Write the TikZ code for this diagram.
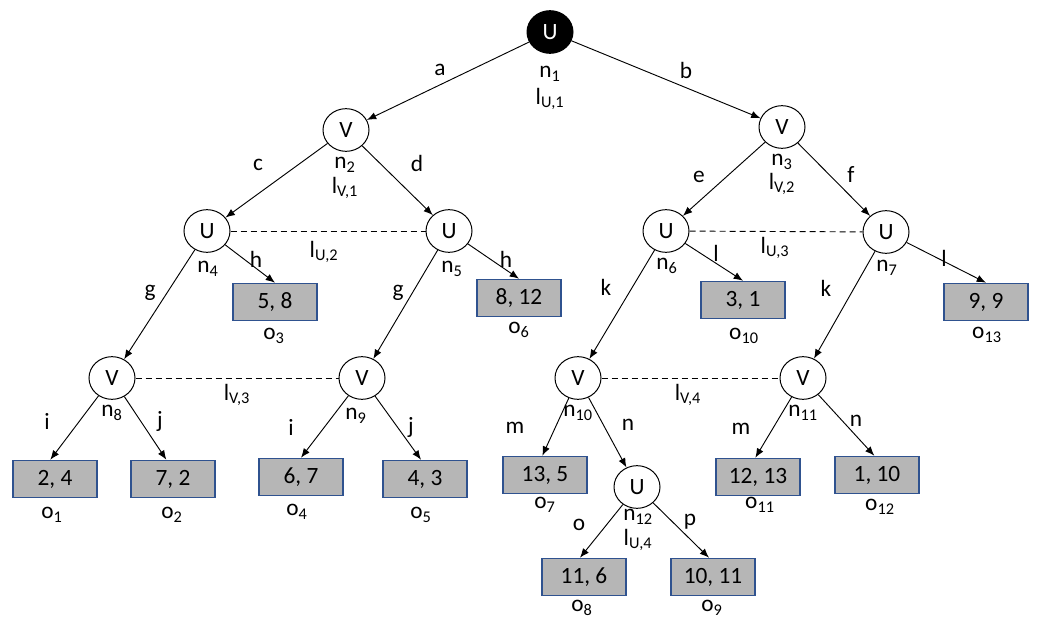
\documentclass[tikz,border=0pt]{standalone}
\usepackage{fontspec}
\setmainfont{Carlito}
\usetikzlibrary{shapes.geometric,arrows.meta}
\definecolor{leafgray}{RGB}{182,182,182}
\definecolor{leafborder}{RGB}{47,82,143}
\newcommand{\sbs}[2]{#1\textsubscript{#2}}
\begin{document}
\begin{tikzpicture}[x=0.75pt,y=-0.75pt,
  every node/.style={font=\fontsize{17.5}{20}\selectfont},
  dnode/.style={ellipse,draw,line width=0.75pt,minimum width=34.5pt,minimum height=32pt,inner sep=0pt},
  rootnode/.style={dnode,fill=black,text=white},
  leaf/.style={draw=leafborder,fill=leafgray,line width=0.9pt,minimum width=63pt,minimum height=28pt,inner sep=0pt},
  edge/.style={line width=0.7pt,-{Latex[length=7pt,width=5.5pt]}},
  info/.style={dash pattern=on 4.5pt off 3pt,line width=0.7pt},
  lab/.style={inner sep=0pt}]
\useasboundingbox (0,0) rectangle (1047,634);
% decision nodes
\node[rootnode] (n1) at (550,32) {U};
\node[dnode] (n2) at (346,130) {V};
\node[dnode] (n3) at (782,127) {V};
\node[dnode] (n4) at (207,231) {U};
\node[dnode] (n5) at (449,231) {U};
\node[dnode] (n6) at (666,231) {U};
\node[dnode] (n7) at (886,232) {U};
\node[dnode] (n8) at (112,378) {V};
\node[dnode] (n9) at (362,378) {V};
\node[dnode] (n10) at (578,378) {V};
\node[dnode] (n11) at (803,378) {V};
\node[dnode] (n12) at (637,487) {U};
% leaves
\node[leaf] (o1) at (55,479) {2, 4};
\node[leaf] (o2) at (173,479) {7, 2};
\node[leaf] (o3) at (275,302) {5, 8};
\node[leaf] (o4) at (301,477) {6, 7};
\node[leaf] (o5) at (425,479) {4, 3};
\node[leaf] (o6) at (519,298) {8, 12};
\node[leaf] (o7) at (545,475) {13, 5};
\node[leaf] (o8) at (584,577) {11, 6};
\node[leaf] (o9) at (713,577) {10, 11};
\node[leaf] (o10) at (743,300) {3, 1};
\node[leaf] (o11) at (758,477) {12, 13};
\node[leaf] (o12) at (877,475) {1, 10};
\node[leaf] (o13) at (986,302) {9, 9};
% leaf labels
\node[lab] (lo1) at (52,515) {\sbs{o}{1}};
\node[lab] (lo2) at (172,515) {\sbs{o}{2}};
\node[lab] (lo3) at (274,336) {\sbs{o}{3}};
\node[lab] (lo4) at (297,512) {\sbs{o}{4}};
\node[lab] (lo5) at (421,515) {\sbs{o}{5}};
\node[lab] (lo6) at (519,330) {\sbs{o}{6}};
\node[lab] (lo7) at (545,505) {\sbs{o}{7}};
\node[lab] (lo8) at (582,608) {\sbs{o}{8}};
\node[lab] (lo9) at (712,608) {\sbs{o}{9}};
\node[lab] (lo10) at (744,336) {\sbs{o}{10}};
\node[lab] (lo11) at (760,505) {\sbs{o}{11}};
\node[lab] (lo12) at (880,507) {\sbs{o}{12}};
\node[lab] (lo13) at (987,335) {\sbs{o}{13}};
% node labels
\node[lab] (ln1) at (550,74) {\sbs{n}{1}};
\node[lab] (li1) at (550,99) {\sbs{l}{U,1}};
\node[lab] (ln2) at (345,165) {\sbs{n}{2}};
\node[lab] (li2) at (345,188) {\sbs{l}{V,1}};
\node[lab] (ln3) at (782,162) {\sbs{n}{3}};
\node[lab] (li3) at (782,184) {\sbs{l}{V,2}};
\node[lab] (ln4) at (208,269) {\sbs{n}{4}};
\node[lab] (ln5) at (452,269) {\sbs{n}{5}};
\node[lab] (ln6) at (667,266) {\sbs{n}{6}};
\node[lab] (ln7) at (887,268) {\sbs{n}{7}};
\node[lab] (ln8) at (112,413) {\sbs{n}{8}};
\node[lab] (ln9) at (356,416) {\sbs{n}{9}};
\node[lab] (ln10) at (578,413) {\sbs{n}{10}};
\node[lab] (ln11) at (803,413) {\sbs{n}{11}};
\node[lab] (ln12) at (638,517) {\sbs{n}{12}};
\node[lab] (li12) at (638,540) {\sbs{l}{U,4}};
% information sets
\draw[info] (n4) -- (n5);
\draw[info] (n6) -- (n7);
\draw[info] (n8) -- (n9);
\draw[info] (n10) -- (n11);
\node[lab] (is2) at (324,252) {\sbs{l}{U,2}};
\node[lab] (is3) at (775,248) {\sbs{l}{U,3}};
\node[lab] (is4) at (237,395) {\sbs{l}{V,3}};
\node[lab] (is5) at (688,395) {\sbs{l}{V,4}};
% edges
\draw[edge] (n1) -- (n2);
\draw[edge] (n1) -- (n3);
\draw[edge] (n2) -- (n4);
\draw[edge] (n2) -- (n5);
\draw[edge] (n3) -- (n6);
\draw[edge] (n3) -- (n7);
\draw[edge] (n4) -- (n8);
\draw[edge] (n4) -- (o3.north);
\draw[edge] (n5) -- (n9);
\draw[edge] (n5) -- (o6.north);
\draw[edge] (n6) -- (n10);
\draw[edge] (n6) -- (o10.north);
\draw[edge] (n7) -- (n11);
\draw[edge] (n7) -- (o13.north);
\draw[edge] (n8) -- ([xshift=-3.5pt]o1.north);
\draw[edge] (n8) -- ([xshift=-5pt]o2.north);
\draw[edge] (n9) -- (o4.north);
\draw[edge] (n9) -- ([xshift=-3pt]o5.north);
\draw[edge] (n10) -- ([xshift=-2pt]o7.north);
\draw[edge] (n10) -- (n12);
\draw[edge] (n11) -- ([xshift=-2pt]o11.north);
\draw[edge] (n11) -- ([xshift=-2pt]o12.north);
\draw[edge] (n12) -- ([xshift=-3pt]o8.north);
\draw[edge] (n12) -- ([xshift=-3pt]o9.north);
% edge labels
\node[lab] (ea) at (440,70) {a};
\node[lab] (eb) at (686,70) {b};
\node[lab] (ec) at (258,165) {c};
\node[lab] (ed) at (417,163) {d};
\node[lab] (ee) at (699,177) {e};
\node[lab] (ef) at (851,175) {f};
\node[lab] (eg1) at (150,293) {g};
\node[lab] (eh1) at (256,259) {h};
\node[lab] (eg2) at (398,293) {g};
\node[lab] (eh2) at (506,259) {h};
\node[lab] (ek1) at (606,287) {k};
\node[lab] (el1) at (716,253) {l};
\node[lab] (ek2) at (826,288) {k};
\node[lab] (el2) at (944,258) {l};
\node[lab] (ei1) at (47,421) {i};
\node[lab] (ej1) at (160,421) {j};
\node[lab] (ei2) at (291,427) {i};
\node[lab] (ej2) at (411,427) {j};
\node[lab] (em1) at (515,428) {m};
\node[lab] (en1) at (628,425) {n};
\node[lab] (em2) at (741,429) {m};
\node[lab] (en2) at (856,421) {n};
\node[lab] (eo) at (579,525) {o};
\node[lab] (ep) at (690,522) {p};
\end{tikzpicture}
\end{document}
